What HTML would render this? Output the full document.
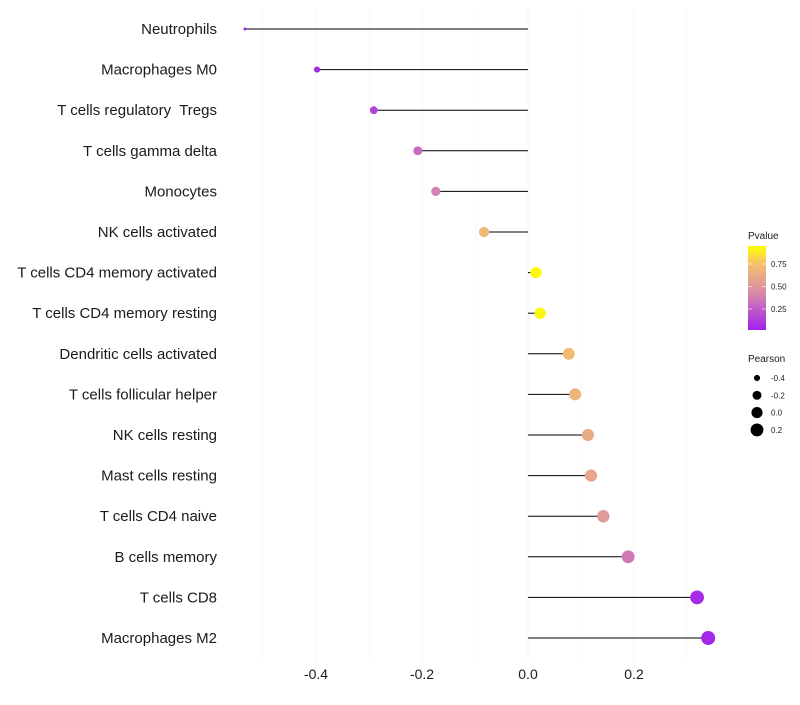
<!DOCTYPE html>
<html><head><meta charset="utf-8"><style>
body{margin:0;background:#fff;font-family:"Liberation Sans",sans-serif}
text{white-space:pre}
</style></head><body>
<svg id="c" width="800" height="700" xmlns="http://www.w3.org/2000/svg"></svg>
<script>
const categories=["Neutrophils","Macrophages M0","T cells regulatory  Tregs","T cells gamma delta","Monocytes","NK cells activated","T cells CD4 memory activated","T cells CD4 memory resting","Dendritic cells activated","T cells follicular helper","NK cells resting","Mast cells resting","T cells CD4 naive","B cells memory","T cells CD8","Macrophages M2"];
const pearson=[-0.534,-0.398,-0.291,-0.208,-0.174,-0.083,0.015,0.023,0.077,0.089,0.113,0.119,0.142,0.189,0.319,0.340];
const pvalue=[0.02,0.06,0.15,0.30,0.40,0.72,0.93,0.92,0.72,0.68,0.62,0.60,0.52,0.36,0.06,0.05];
const xTicks=[-0.4,-0.2,0.0,0.2];
const xTickLabels=["-0.4","-0.2","0.0","0.2"];
const gridMinor=[-0.5,-0.3,-0.1,0.1,0.3];
const pLegend=[0.25,0.5,0.75];
const sizeLegend=[-0.4,-0.2,0.0,0.2];

const NS="http://www.w3.org/2000/svg",svg=document.getElementById('c');
function el(t,a,p){const e=document.createElementNS(NS,t);for(const k in a)e.setAttribute(k,a[k]);(p||svg).appendChild(e);return e;}
const x=v=>528+v*530;
const y=i=>29+i*40.6;
const pmin=0.017,pmax=0.95;
const stops=[[0,[160,32,240]],[0.45,[216,140,168]],[0.78,[245,190,112]],[1,[255,255,0]]];
function col(p){let t=Math.max(0,Math.min(1,(p-pmin)/(pmax-pmin)));for(let i=1;i<stops.length;i++){if(t<=stops[i][0]){const a=stops[i-1],b=stops[i],f=(t-a[0])/(b[0]-a[0]);return 'rgb('+a[1].map((c,j)=>Math.round(c+(b[1][j]-c)*f)).join(',')+')';}}return 'rgb(255,255,0)';}
const smin=-0.534,smax=0.34;
function rad(v){return Math.sqrt(2.25+(v-smin)/(smax-smin)*46.75);}

gridMinor.forEach(v=>{const g=el('line',{x1:x(v),x2:x(v),y1:8,y2:662,stroke:'#f9f9f9','stroke-width':1});

});
xTicks.forEach((v,i)=>{const g=el('line',{x1:x(v),x2:x(v),y1:8,y2:662,stroke:'#f4f4f4','stroke-width':1});


const t=el('text',{x:x(v),y:679,'text-anchor':'middle','font-size':14,fill:'#1a1a1a'});t.textContent=xTickLabels[i];

});

categories.forEach((c,i)=>{
const t=el('text',{x:217,y:y(i)+5,'text-anchor':'end','font-size':15,fill:'#1a1a1a'});t.textContent=c;


const l=el('line',{x1:x(0),x2:x(pearson[i]),y1:y(i),y2:y(i),stroke:'#000','stroke-width':1});


const d=el('circle',{cx:x(pearson[i]),cy:y(i),r:rad(pearson[i]),fill:col(pvalue[i])});


});

const lt=el('text',{x:748,y:239,'font-size':10,fill:'#1a1a1a'});lt.textContent='Pvalue';


const defs=el('defs',{});const lg=el('linearGradient',{id:'pg',x1:0,y1:1,x2:0,y2:0},defs);
stops.forEach(s=>el('stop',{offset:s[0],'stop-color':'rgb('+s[1].join(',')+')'},lg));
const bar=el('rect',{x:748,y:246,width:18,height:84,fill:'url(#pg)'});


const py=p=>330-(p-pmin)/(pmax-pmin)*84;
pLegend.forEach(p=>{el('line',{x1:748,x2:752,y1:py(p),y2:py(p),stroke:'#fff','stroke-opacity':0.6});el('line',{x1:762,x2:766,y1:py(p),y2:py(p),stroke:'#fff','stroke-opacity':0.6});
const t=el('text',{x:771,y:py(p)+3,'font-size':8,fill:'#1a1a1a'});t.textContent=p.toFixed(2);

});
const st=el('text',{x:748,y:362,'font-size':10,fill:'#1a1a1a'});st.textContent='Pearson';


sizeLegend.forEach((v,i)=>{const cy=378+i*17.3;
const d=el('circle',{cx:757,cy:cy,r:rad(v),fill:'#000'});


const t=el('text',{x:771,y:cy+3,'font-size':8,fill:'#1a1a1a'});t.textContent=v.toFixed(1);

});
</script>
</body></html>
